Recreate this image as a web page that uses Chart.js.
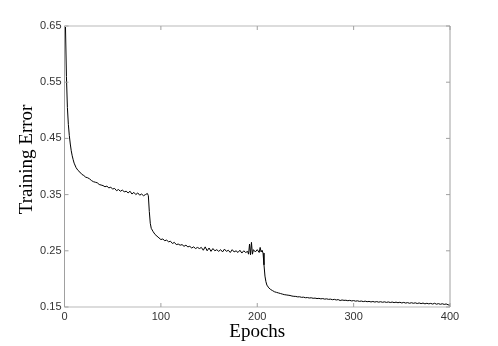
<!DOCTYPE html>
<html>
<head>
<meta charset="utf-8">
<script src="https://cdn.jsdelivr.net/npm/chart.js@4.4.0/dist/chart.umd.min.js"></script>
<style>
  body { margin: 0; background: #fff; }
  #wrap { width: 498px; height: 346px; }
</style>
</head>
<body>
<div id="wrap"><canvas id="myChart" width="498" height="346"></canvas></div>
<script>
// training curve
const epochs = [
  1,2,3,4,5,6,7,8,9,10,12,14,16,18,20,22,24,26,28,30,32,34,36,38,40,
  42,44,46,48,50,52,54,56,58,60,62,64,66,68,70,72,74,76,78,80,82,84,86,87,
  88,89,90,92,94,96,98,100,102,104,106,108,110,112,114,116,118,120,122,124,126,128,130,
  132,134,136,138,140,142,144,146,148,150,152,154,156,158,160,162,164,166,168,170,
  172,174,176,178,180,182,184,186,188,190,191,192,193,194,195,196,198,200,202,203,204,205,206,
  207,208,209,210,212,214,216,218,220,222,224,226,228,
  230,232,234,236,238,240,242,244,246,248,250,252,254,256,258,260,262,264,266,268,
  270,272,274,276,278,280,282,284,286,288,290,292,294,296,298,300,302,304,306,308,
  310,312,314,316,318,320,322,324,326,328,330,332,334,336,338,340,342,344,346,348,
  350,352,354,356,358,360,362,364,366,368,370,372,374,376,378,380,382,384,386,388,
  390,392,394,396,398,400
];
const trainError = [
  0.650,0.560,0.505,0.475,0.455,0.440,0.428,0.419,0.412,0.406,0.398,0.393,0.390,0.386,0.384,0.381,0.380,0.378,0.375,0.373,0.372,0.371,0.368,0.367,0.366,
  0.364,0.365,0.362,0.363,0.360,0.361,0.357,0.359,0.356,0.358,0.355,0.356,0.353,0.356,0.351,0.354,0.350,0.353,0.349,0.351,0.348,0.350,0.352,0.348,
  0.320,0.299,0.290,0.284,0.279,0.276,0.273,0.270,0.271,0.268,0.269,0.266,0.267,0.263,0.265,0.261,0.262,0.260,0.261,0.258,0.260,0.257,0.258,
  0.255,0.257,0.254,0.256,0.254,0.256,0.251,0.257,0.250,0.255,0.249,0.254,0.250,0.252,0.249,0.252,0.248,0.253,0.249,0.251,
  0.247,0.252,0.248,0.250,0.247,0.251,0.246,0.250,0.247,0.249,0.244,0.262,0.243,0.265,0.244,0.252,0.248,0.252,0.247,0.256,0.248,0.251,0.246,
  0.225,0.205,0.195,0.189,0.184,0.181,0.179,0.177,0.176,0.175,0.174,0.173,0.172,
  0.1715,0.1710,0.1705,0.1695,0.1690,0.1688,0.1680,0.1682,0.1672,0.1675,0.1665,0.1668,0.1660,0.1664,0.1655,0.1658,0.1650,0.1654,0.1645,0.1650,
  0.1640,0.1645,0.1636,0.1640,0.1630,0.1636,0.1625,0.1632,0.1615,0.1625,0.1618,0.1620,0.1612,0.1618,0.1608,0.1614,0.1604,0.1610,0.1600,0.1606,
  0.1596,0.1604,0.1594,0.1600,0.1590,0.1598,0.1588,0.1596,0.1586,0.1594,0.1584,0.1592,0.1582,0.1590,0.1580,0.1588,0.1578,0.1586,0.1576,0.1584,
  0.1572,0.1582,0.1570,0.1578,0.1566,0.1576,0.1566,0.1574,0.1562,0.1572,0.1560,0.1570,0.1556,0.1566,0.1556,0.1564,0.1552,0.1566,0.1550,0.1560,
  0.1548,0.1558,0.1546,0.1554,0.1540,0.1530
];
const xTicks = [0, 100, 200, 300, 400];
const yTicks = [0.15, 0.25, 0.35, 0.45, 0.55, 0.65];

// box round the plot with short inward ticks
const frame = {
  id: 'frame',
  afterDraw(chart) {
    const c = chart.ctx, a = chart.chartArea;
    const xs = chart.scales.x, ys = chart.scales.y;
    c.save();
    c.strokeStyle = '#dcdcdc';
    c.lineWidth = 2;
    c.beginPath();
    c.moveTo(a.left, a.top); c.lineTo(a.right, a.top);
    c.moveTo(a.left, a.bottom); c.lineTo(a.right, a.bottom);
    c.stroke();
    c.strokeStyle = '#a0a0a0';
    c.lineWidth = 1;
    c.beginPath();
    c.moveTo(a.left, a.top); c.lineTo(a.left, a.bottom);
    c.moveTo(a.right, a.top); c.lineTo(a.right, a.bottom);
    xTicks.forEach(v => {
      const px = xs.getPixelForValue(v);
      c.moveTo(px, a.bottom); c.lineTo(px, a.bottom - 4);
      c.moveTo(px, a.top); c.lineTo(px, a.top + 4);
    });
    yTicks.forEach(v => {
      const py = ys.getPixelForValue(v);
      c.moveTo(a.left, py); c.lineTo(a.left + 4, py);
      c.moveTo(a.right, py); c.lineTo(a.right - 4, py);
    });
    c.stroke();
    c.restore();
  }
};

const ctx = document.getElementById('myChart').getContext('2d');
const config = {
  type: 'line',
  data: {
    datasets: [{
      data: epochs.map((e, i) => ({x: e, y: trainError[i]})),
      borderColor: '#000',
      borderWidth: 1,
      pointRadius: 0,
      tension: 0,
      fill: false
    }]
  },
  options: {
    responsive: false,
    animation: false,
    layout: { padding: { left: 0, top: 26, right: 48, bottom: 0 } },
    plugins: { legend: { display: false }, tooltip: { enabled: false } },
    scales: {
      x: {
        type: 'linear',
        min: 0, max: 400,
        afterBuildTicks: s => { s.ticks = xTicks.map(v => ({value: v})); },
        afterFit: s => { s.height = 39; },
        grid: { display: false, drawTicks: false },
        border: { display: false },
        ticks: {
          padding: 3,
          color: '#333',
          font: { family: 'Liberation Sans', size: 11 },
          maxRotation: 0
        },
        title: {
          display: true,
          text: 'Epochs',
          color: '#000',
          font: { family: 'Liberation Serif', size: 19 },
          padding: { top: 0, bottom: 3 }
        }
      },
      y: {
        min: 0.15, max: 0.65,
        afterBuildTicks: s => { s.ticks = yTicks.map(v => ({value: v})); },
        afterFit: s => { s.width = 64.5; },
        grid: { display: false, drawTicks: false },
        border: { display: false },
        ticks: {
          padding: 3,
          color: '#333',
          font: { family: 'Liberation Sans', size: 11 },
          callback: v => v.toFixed(2)
        },
        title: {
          display: true,
          text: '   Training Error',
          color: '#000',
          font: { family: 'Liberation Serif', size: 19 },
          padding: { top: 16, bottom: 0 }
        }
      }
    }
  },
  plugins: [frame]
};

var myChart = new Chart(ctx, config);
</script>
</body>
</html>
